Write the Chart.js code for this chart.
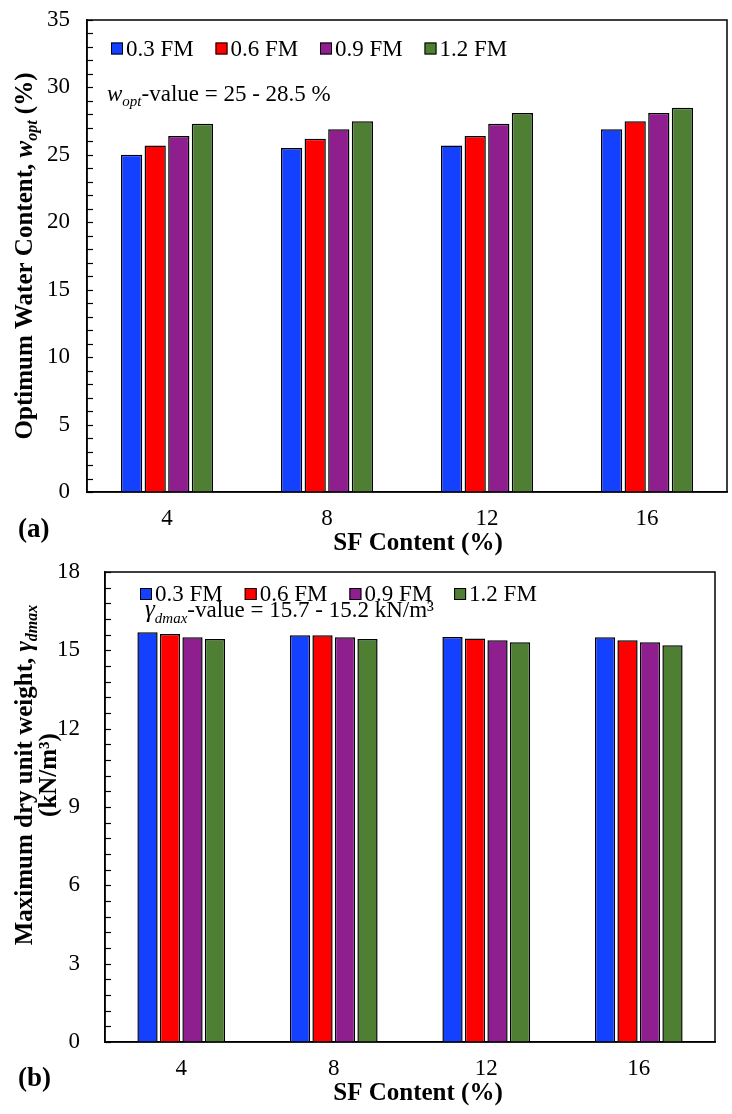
<!DOCTYPE html>
<html>
<head>
<meta charset="utf-8">
<script src="https://cdn.jsdelivr.net/npm/chart.js@4"></script>
<style>
body { margin: 0; background: #fff; }
canvas { display: block; }
</style>
</head>
<body>
<canvas id="chartA" width="732" height="560"></canvas>
<canvas id="chartB" width="732" height="554"></canvas>
<script>
const sfContent = ['4', '8', '12', '16'];
const seriesLabels = ['0.3 FM', '0.6 FM', '0.9 FM', '1.2 FM'];
const seriesColors = ['#1440ff', '#ff0000', '#8f1f8f', '#4f7f33'];

// (a) optimum water content (%)
const wopt03 = [25.0, 25.5, 25.7, 26.9];
const wopt06 = [25.7, 26.2, 26.4, 27.5];
const wopt09 = [26.4, 26.9, 27.3, 28.1];
const wopt12 = [27.3, 27.5, 28.1, 28.5];
const woptTicks = [0, 5, 10, 15, 20, 25, 30, 35];

// (b) maximum dry unit weight (kN/m3)
const gdmax03 = [15.69, 15.58, 15.51, 15.50];
const gdmax06 = [15.63, 15.58, 15.45, 15.39];
const gdmax09 = [15.50, 15.50, 15.39, 15.31];
const gdmax12 = [15.43, 15.43, 15.31, 15.19];
const gdmaxTicks = [0, 3, 6, 9, 12, 15, 18];

const SERIF = "'Liberation Serif', 'Times New Roman', serif";

function drawRich(ctx, segs, x, y, align) {
    let w = 0;
    segs.forEach(s => { ctx.font = s.font; w += ctx.measureText(s.text).width; });
    let cx = align === 'center' ? x - w / 2 : x;
    segs.forEach(s => {
        ctx.font = s.font;
        ctx.fillText(s.text, cx, y + (s.dy || 0));
        cx += ctx.measureText(s.text).width;
    });
}

function makeDecor(cfg) {
    return {
        id: 'decor',
        afterDraw(chart) {
            const ctx = chart.ctx;
            const area = chart.chartArea;
            const yScale = chart.scales.y;
            ctx.save();
            ctx.fillStyle = '#000';
            ctx.strokeStyle = '#000';

            // frame
            ctx.lineWidth = 1.5;
            ctx.strokeRect(area.left, area.top, area.right - area.left, area.bottom - area.top);

            // inward tick marks
            ctx.lineWidth = 1.2;
            yScale.ticks.forEach(t => {
                const py = Math.round(yScale.getPixelForValue(t.value)) + 0.5;
                ctx.beginPath();
                ctx.moveTo(area.left, py);
                ctx.lineTo(area.left + 6, py);
                ctx.stroke();
            });

            // legend
            ctx.textBaseline = 'middle';
            ctx.font = '23px ' + SERIF;
            chart.data.datasets.forEach((ds, i) => {
                const bx = cfg.legendX + i * cfg.legendStep;
                ctx.fillStyle = ds.backgroundColor;
                ctx.fillRect(bx, cfg.legendY - 6, 12, 12);
                ctx.lineWidth = 1;
                ctx.strokeRect(bx + 0.5, cfg.legendY - 5.5, 11, 11);
                ctx.fillStyle = '#000';
                ctx.fillText(ds.label, bx + 15, cfg.legendY + 1);
            });

            ctx.textBaseline = 'alphabetic';
            drawRich(ctx, cfg.note, cfg.noteX, cfg.noteY, 'left');

            // x title and panel label
            drawRich(ctx, [{ text: 'SF Content (%)', font: 'bold 25px ' + SERIF }], cfg.xTitleX, cfg.xTitleY, 'center');
            drawRich(ctx, [{ text: cfg.panel, font: 'bold 27px ' + SERIF }], 18, cfg.panelY, 'left');

            // y title (rotated)
            cfg.yTitle.forEach(line => {
                ctx.save();
                ctx.translate(line.x, cfg.yTitleCenter);
                ctx.rotate(-Math.PI / 2);
                drawRich(ctx, line.segs, 0, 0, 'center');
                ctx.restore();
            });
            ctx.restore();
        }
    };
}

function buildChart(id, series, tickList, step, max, dims, cfg) {
    const majorLabel = v => tickList.some(t => Math.abs(t - v) < 1e-6) ? String(Math.round(v)) : '';
    return new Chart(document.getElementById(id), {
        type: 'bar',
        data: {
            labels: sfContent,
            datasets: series.map((values, i) => ({
                label: seriesLabels[i],
                data: values,
                backgroundColor: seriesColors[i],
                borderColor: '#000',
                borderWidth: 1.5,
                categoryPercentage: 0.59,
                barPercentage: 0.9
            }))
        },
        options: {
            responsive: false,
            animation: false,
            layout: { padding: { top: dims.top, right: dims.right, left: 0, bottom: 0 } },
            plugins: { legend: { display: false }, tooltip: { enabled: false } },
            scales: {
                x: {
                    grid: { display: false, drawTicks: false },
                    border: { display: true, color: '#000', width: 1.5 },
                    ticks: { color: '#000', padding: 13, font: { family: SERIF, size: 23 } },
                    afterFit: s => {
                        s.height = dims.xHeight;
                        s.paddingLeft = 0;
                        s.paddingRight = 0;
                    }
                },
                y: {
                    min: 0,
                    max: max,
                    grid: { display: false, drawTicks: false },
                    border: { display: true, color: '#000', width: 1.5 },
                    ticks: {
                        stepSize: step,
                        maxTicksLimit: 100,
                        autoSkip: false,
                        color: '#000',
                        padding: dims.yPad,
                        font: { family: SERIF, size: 23 },
                        callback: majorLabel
                    },
                    afterFit: s => {
                        s.width = dims.yWidth;
                        s.paddingTop = 0;
                        s.paddingBottom = 0;
                    }
                }
            }
        },
        plugins: [makeDecor(cfg)]
    });
}

buildChart('chartA', [wopt03, wopt06, wopt09, wopt12], woptTicks, 1, 35,
    { top: 20, right: 5, xHeight: 68, yWidth: 87, yPad: 17 },
    {
        legendX: 111, legendStep: 104.5, legendY: 48.5,
        noteX: 107, noteY: 101,
        note: [
            { text: 'w', font: 'italic 23px ' + SERIF },
            { text: 'opt', font: 'italic 15px ' + SERIF, dy: 5 },
            { text: '-value = 25 - 28.5 %', font: '23px ' + SERIF }
        ],
        xTitleX: 418, xTitleY: 550,
        panel: '(a)', panelY: 537,
        yTitleCenter: 256,
        yTitle: [{
            x: 32,
            segs: [
                { text: 'Optimum Water Content, ', font: 'bold 25px ' + SERIF },
                { text: 'w', font: 'italic bold 25px ' + SERIF },
                { text: 'opt', font: 'italic bold 16px ' + SERIF, dy: 5 },
                { text: ' (%)', font: 'bold 25px ' + SERIF }
            ]
        }]
    });

buildChart('chartB', [gdmax03, gdmax06, gdmax09, gdmax12], gdmaxTicks, 0.6, 18,
    { top: 12, right: 17, xHeight: 72, yWidth: 105, yPad: 25 },
    {
        legendX: 140, legendStep: 104.7, legendY: 34,
        noteX: 145, noteY: 57,
        note: [
            { text: 'γ', font: 'italic 25px ' + SERIF },
            { text: 'dmax', font: 'italic 15px ' + SERIF, dy: 6 },
            { text: '-value = 15.7 - 15.2 kN/m³', font: '23px ' + SERIF }
        ],
        xTitleX: 418, xTitleY: 540,
        panel: '(b)', panelY: 526,
        yTitleCenter: 215,
        yTitle: [
            {
                x: 32,
                segs: [
                    { text: 'Maximum dry unit weight, ', font: 'bold 25px ' + SERIF },
                    { text: 'γ', font: 'italic bold 25px ' + SERIF },
                    { text: 'dmax', font: 'italic bold 16px ' + SERIF, dy: 5 }
                ]
            },
            {
                x: 56,
                segs: [{ text: '(kN/m³)', font: 'bold 25px ' + SERIF }]
            }
        ]
    });
</script>
</body>
</html>
